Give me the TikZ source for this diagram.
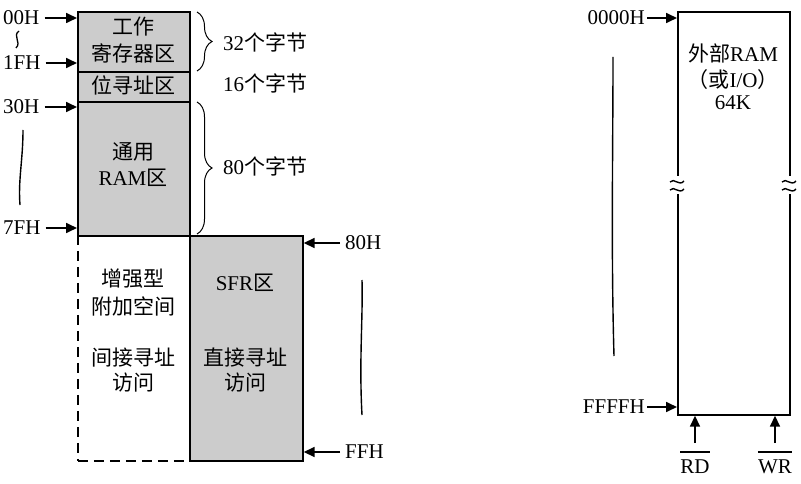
\documentclass[tikz,border=0pt]{standalone}
\usepackage{fontspec}
\setmainfont{Liberation Serif}
\newfontfamily\cjk{Noto Sans CJK SC}
\usetikzlibrary{arrows.meta,calc,decorations.pathreplacing}
\begin{document}
\begin{tikzpicture}[x=1pt,y=-1pt,
  every node/.style={font=\fontsize{21}{26}\selectfont, text=black},
  graybox/.style={draw, line width=1.7pt, fill=black!20, anchor=north west, inner sep=0pt},
  whitebox/.style={draw, line width=1.7pt, fill=white, anchor=north west, inner sep=0pt},
  dashbox/.style={draw, line width=1.7pt, dash pattern=on 10pt off 6pt, anchor=north west, inner sep=0pt},
  txt/.style={inner sep=0pt, align=center},
  lbl/.style={inner sep=2pt},
  arr/.style={line width=1.7pt, -{Triangle[length=11pt,width=10pt]}},
  wave/.style={line width=1.4pt},
  brc/.style={decorate, decoration={brace, amplitude=15pt}, line width=1pt}]
\useasboundingbox (0,0) rectangle (801,484);

% left memory boxes
\node[graybox, minimum width=112pt, minimum height=60pt] (work) at (77,11) {};
\node[graybox, minimum width=112pt, minimum height=30pt] (bit) at (77,71) {};
\node[graybox, minimum width=112pt, minimum height=134pt] (gen) at (77,101) {};
\node[dashbox, minimum width=112pt, minimum height=225pt] (ext) at (77,235) {};
\node[graybox, minimum width=113pt, minimum height=225pt] (sfr) at (189,235) {};

\node[txt] (t1) at (133,27) {\cjk 工作};
\node[txt] (t2) at (133,53) {\cjk 寄存器区};
\node[txt] (t3) at (133,85) {\cjk 位寻址区};
\node[txt] (t4) at (133,152) {\cjk 通用};
\node[txt] (t5) at (133,178) {RAM{\cjk 区}};
\node[txt] (t6) at (133,279) {\cjk 增强型};
\node[txt] (t7) at (133,306) {\cjk 附加空间};
\node[txt] (t8) at (133,358) {\cjk 间接寻址};
\node[txt] (t9) at (133,383) {\cjk 访问};
\node[txt] (t10) at (245,283) {SFR{\cjk 区}};
\node[txt] (t11) at (245,358) {\cjk 直接寻址};
\node[txt] (t12) at (245,383) {\cjk 访问};

% braces and byte counts
\draw[brc] (197,12) -- (197,71);
\draw[brc] (197,102) -- (197,234);
\node[lbl, anchor=west] (b32) at (221,42) {32{\cjk 个字节}};
\node[lbl, anchor=west] (b16) at (221,83) {16{\cjk 个字节}};
\node[lbl, anchor=west] (b80) at (221,166) {80{\cjk 个字节}};

% address labels left
\node[lbl, anchor=west] (a00) at (1,18) {00H};
\node[lbl, anchor=west] (a1f) at (1,63) {1FH};
\node[lbl, anchor=west] (a30) at (1,107) {30H};
\node[lbl, anchor=west] (a7f) at (1,228) {7FH};
\draw[arr] ([xshift=3pt]a00.east) -- (a00.east -| work.west);
\draw[arr] ([xshift=3pt]a1f.east) -- (a1f.east -| work.west);
\draw[arr] ([xshift=3pt]a30.east) -- (a30.east -| work.west);
\draw[arr] ([xshift=3pt]a7f.east) -- (a7f.east -| work.west);

% address labels right of SFR
\node[lbl, anchor=west] (a80) at (343,243) {80H};
\node[lbl, anchor=west] (aff) at (343,452) {FFH};
\draw[arr] ([xshift=-3pt]a80.west) -- (a80.west -| sfr.east);
\draw[arr] ([xshift=-3pt]aff.west) -- (aff.west -| sfr.east);

% wavy range marks
\draw[line width=1.3pt] (19,31) .. controls (12,36) and (22,42) .. (16,48);
\draw[wave] (23,130) .. controls (23,160) and (18,180) .. (20,205);
\draw[wave] (362,280) .. controls (363,320) and (359,360) .. (362,415);
\draw[wave] (613,57) .. controls (613,150) and (611,250) .. (614,356);

% external RAM
\node[whitebox, minimum width=112pt, minimum height=403pt] (xram) at (677,11) {};
\node[txt] (x1) at (733,53) {{\cjk 外部}RAM};
\node[txt] (x2) at (733,80) {{\cjk （或}I/O{\cjk ）}};
\node[txt] (x3) at (733,103) {64K};

% break marks
\foreach \bx/\nm in {677/bl, 789/br}{
  \coordinate (\nm) at (\bx,185);
  \fill[white] ($(\nm)+(-3,-9)$) rectangle ($(\nm)+(3,9)$);
  \draw[line width=1.4pt] ($(\nm)+(-7,-3)$) .. controls ($(\nm)+(-3,-8)$) and ($(\nm)+(2,2)$) .. ($(\nm)+(7,-4)$);
  \draw[line width=1.4pt] ($(\nm)+(-7,5)$) .. controls ($(\nm)+(-3,0)$) and ($(\nm)+(2,10)$) .. ($(\nm)+(7,4)$);
}

\node[lbl, anchor=east] (a0000) at (647,18) {0000H};
\node[lbl, anchor=east] (affff) at (647,407) {FFFFH};
\draw[arr] (a0000.east) -- (a0000.east -| xram.west);
\draw[arr] (affff.east) -- (affff.east -| xram.west);

\node[inner sep=0pt] (rd) at (695,467) {RD};
\node[inner sep=0pt] (wr) at (775,467) {WR};
\coordinate (rdtop) at (695,443);
\coordinate (wrtop) at (775,443);
\draw[line width=1.2pt] (rd.west |- 0,452) -- (rd.east |- 0,452);
\draw[line width=1.2pt] (wr.west |- 0,452) -- (wr.east |- 0,452);
\draw[arr] (rdtop) -- (rdtop |- xram.south);
\draw[arr] (wrtop) -- (wrtop |- xram.south);
\end{tikzpicture}
\end{document}
